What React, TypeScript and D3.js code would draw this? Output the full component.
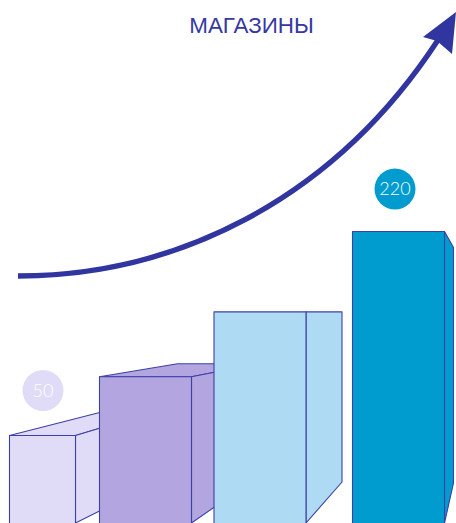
import * as d3 from "d3";

const width = 456;
const height = 523;

// the chart's values (only the first and last are printed in the picture)
const categories = ["a", "b", "c", "d"];
const values = [50, 99, 153, 220];
const labels = ["50", "", "", "220"];
const colors = ["#e0dcf7", "#b2a5e0", "#aedbf3", "#009ccf"];
const title = "МАГАЗИНЫ";

// bar geometry
const lefts = [9.5, 99.5, 214, 352.5];
const widths = [66, 92, 92, 92];
const sideDx = [40, 23, 36, 9];
const sideTopDy = [-12, -4.5, 0, 16];
const sideBottomDy = [-20, -16, -41, -40];
const backDx = [100, 78, 0, 0];
const backDy = [-25.5, -13, 0, 0];
const labelDx = [33.5, 0, 0, 42.5];
const labelDy = [-45, 0, 0, -42.5];

const arrowHead: [number, number][] = [
  [456, 12],
  [423, 37],
  [437, 41],
  [452, 54],
];

const stroke = "#3d40a6";

export default function App() {
  const yScale = d3.scaleLinear().domain([50, 220]).range([435.5, 231.5]);
  const leftScale = d3.scaleOrdinal<string, number>().domain(categories).range(lefts);
  const widthScale = d3.scaleOrdinal<string, number>().domain(categories).range(widths);
  const poly = d3.line();

  // the big growth arrow
  const arrowPath = d3.path();
  arrowPath.moveTo(18, 276);
  arrowPath.bezierCurveTo(170, 276, 330, 205, 438, 40);

  return (
    <svg
      width={width}
      height={height}
      style={{ position: "absolute", left: 0, top: 0, display: "block" }}
    >
      <rect width={width} height={height} fill="#fff" />
      <text
        x={251.5}
        y={33}
        textAnchor="middle"
        fontFamily="Liberation Sans"
        fontSize={22.4}
        fill="#3539a0"
      >
        {title}
      </text>
      <path d={arrowPath.toString()} fill="none" stroke="#31359f" strokeWidth={5.3} />
      <path d={poly(arrowHead)! + "Z"} fill="#31359f" />

      {categories.map((c, i) => {
        const x0 = leftScale(c);
        const x1 = x0 + widthScale(c);
        const top = yScale(values[i]);
        const side: [number, number][] = [
          [x1, top],
          [x1 + sideDx[i], top + sideTopDy[i]],
          [x1 + sideDx[i], height + sideBottomDy[i]],
          [x1, height],
        ];
        const face: [number, number][] = [
          [x0, top],
          [x0 + backDx[i], top + backDy[i]],
          [x1 + sideDx[i], top + backDy[i]],
          [x1 + sideDx[i], top + sideTopDy[i]],
          [x1, top],
        ];
        return (
          <g key={c} stroke={stroke} strokeWidth={1.1} strokeLinejoin="round">
            {backDx[i] > 0 && <path d={poly(face)! + "Z"} fill={colors[i]} />}
            <path d={poly(side)! + "Z"} fill={colors[i]} />
            <rect x={x0} y={top} width={x1 - x0} height={height - top + 2} fill={colors[i]} />
          </g>
        );
      })}

      {categories.map((c, i) =>
        labels[i] ? (
          <g
            key={c}
            transform={`translate(${leftScale(c) + labelDx[i]},${yScale(values[i]) + labelDy[i]})`}
          >
            <circle r={20.5} fill={colors[i]} />
            <text
              textAnchor="middle"
              dy="0.36em"
              fontFamily="Lato"
              fontWeight={300}
              fontSize={18}
              fill="#fff"
            >
              {labels[i]}
            </text>
          </g>
        ) : null
      )}
    </svg>
  );
}
